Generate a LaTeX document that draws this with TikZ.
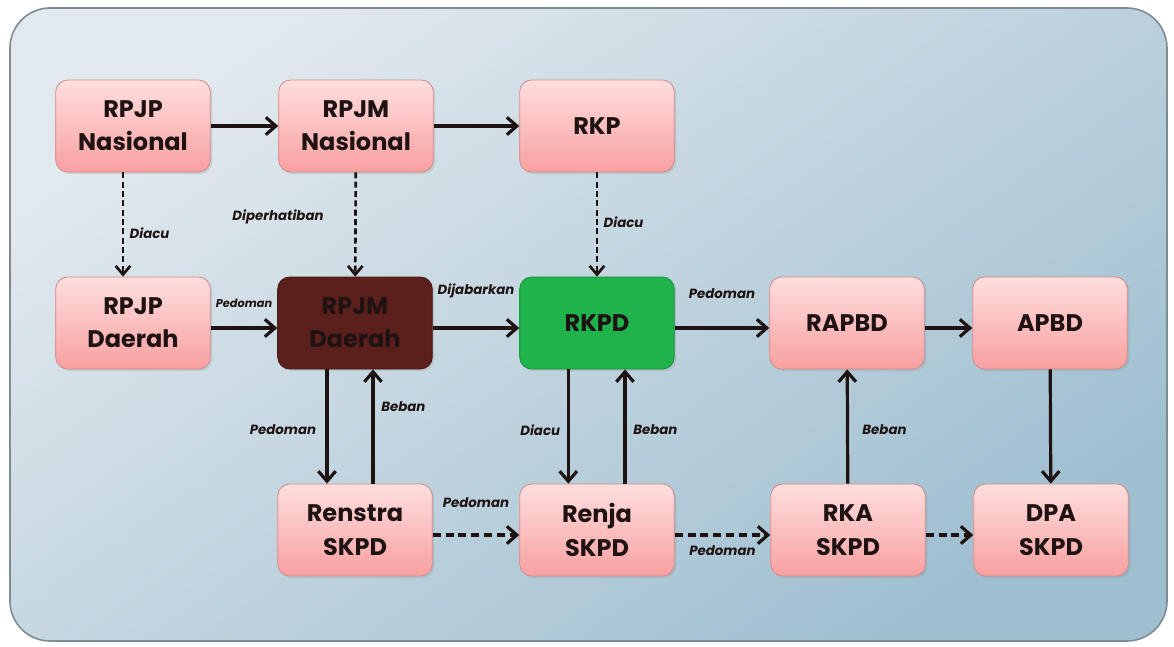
\documentclass[tikz,border=0pt]{standalone}
\usepackage{fontspec}
\setmainfont{Poppins}
\usetikzlibrary{arrows.meta,shadows}
\definecolor{bgtop}{HTML}{E2E9EE}
\definecolor{bgbot}{HTML}{9FBFD0}
\definecolor{bgline}{HTML}{7E8C92}
\definecolor{kotaktop}{HTML}{FFDEDE}
\definecolor{kotakbot}{HTML}{F8A0A0}
\definecolor{kotakline}{HTML}{D08A8A}
\definecolor{coklat}{HTML}{5B1F1C}
\definecolor{hijau}{HTML}{20B24B}
\definecolor{teks}{HTML}{1E1212}
\tikzset{
  kotak/.style={rectangle, rounded corners=9pt, minimum width=116pt, minimum height=69pt,
    align=center, draw=kotakline, line width=0.6pt, top color=kotaktop, bottom color=kotakbot,
    drop shadow={opacity=0.2, shadow xshift=1.5pt, shadow yshift=-1.5pt},
    text=teks, font=\fontsize{18}{25}\selectfont\bfseries},
  panah/.style={line width=2.4pt, teks, -{Straight Barb[length=7.5pt,width=13pt]}},
  putus/.style={panah, dash pattern=on 6pt off 3.6pt},
  putustipis/.style={line width=2pt, teks, dash pattern=on 4.5pt off 2.5pt, -{Straight Barb[length=6.5pt,width=11pt]}},
  ket/.style={font=\fontsize{10}{11}\selectfont\bfseries\itshape, text=teks, inner sep=1pt}
}
\begin{document}
\begin{tikzpicture}[x=0.75pt, y=-0.75pt]
    \useasboundingbox (0,0) rectangle (1174,646);
    % Latar
    \shade[top color=bgtop, bottom color=bgbot, shading angle=35, draw=bgline, line width=1.2pt,
      rounded corners=30pt] (10,8) rectangle (1167,641);

    % Kotak
    \node[kotak] (rpjpn) at (133,126) {RPJP\\Nasional};
    \node[kotak] (rpjmn) at (356,126) {RPJM\\Nasional};
    \node[kotak] (rkp) at (597,126) {RKP};
    \node[kotak] (rpjpd) at (133,323) {RPJP\\Daerah};
    \node[kotak, top color=coklat, bottom color=coklat, draw=coklat!80!black] (rpjmd) at (355,323) {RPJM\\Daerah};
    \node[kotak, top color=hijau, bottom color=hijau, draw=hijau!80!black] (rkpd) at (597,323) {RKPD};
    \node[kotak] (rapbd) at (847,323) {RAPBD};
    \node[kotak] (apbd) at (1050,323) {APBD};
    \node[kotak] (renstra) at (355,530) {Renstra\\SKPD};
    \node[kotak] (renja) at (597,530) {Renja\\SKPD};
    \node[kotak] (rka) at (848,530) {RKA\\SKPD};
    \node[kotak] (dpa) at (1051,530) {DPA\\SKPD};

    % Panah baris atas
    \draw[panah] (rpjpn) -- (rpjmn);
    \draw[panah] (rpjmn) -- (rkp);
    \draw[putustipis] ([xshift=-7.5pt]rpjpn.south) -- ([xshift=-7.5pt]rpjpd.north)
      node[ket, pos=0.58, right=3pt] {Diacu};
    \draw[putustipis] (rpjmn) -- (rpjmd)
      node[ket, pos=0.43, left=22pt] {Diperhatiban};
    \draw[putustipis] (rkp) -- (rkpd)
      node[ket, pos=0.48, right=3pt] {Diacu};

    % Panah baris tengah
    \draw[panah] ([yshift=-3.75pt]rpjpd.east) -- ([yshift=-3.75pt]rpjmd.west)
      node[ket, font=\fontsize{8.5}{10}\selectfont\bfseries\itshape, midway, above=13pt] {Pedoman};
    \draw[panah] ([yshift=-3.75pt]rpjmd.east) -- ([yshift=-3.75pt]rkpd.west)
      node[ket, midway, above=20pt] {Dijabarkan};
    \draw[panah] ([yshift=-3.75pt]rkpd.east) -- ([yshift=-3.75pt]rapbd.west)
      node[ket, midway, above=20pt] {Pedoman};
    \draw[panah] ([yshift=-3.75pt]rapbd.east) -- ([yshift=-3.75pt]apbd.west);

    % Panah vertikal
    \draw[panah] ([xshift=-21pt]rpjmd.south) -- ([xshift=-21pt]renstra.north)
      node[ket, pos=0.53, left=6pt] {Pedoman};
    \draw[panah] ([xshift=13.5pt]renstra.north) -- ([xshift=13.5pt]rpjmd.south)
      node[ket, pos=0.67, right=4pt] {Beban};
    \draw[panah] ([xshift=-21.5pt]rkpd.south) -- ([xshift=-21.5pt]renja.north)
      node[ket, pos=0.53, left=4pt] {Diacu};
    \draw[panah] ([xshift=21pt]renja.north) -- ([xshift=21pt]rkpd.south)
      node[ket, pos=0.47, right=4pt] {Beban};
    \draw[panah] (rka) -- (rapbd)
      node[ket, pos=0.47, right=9pt] {Beban};
    \draw[panah] (apbd) -- (dpa);

    % Panah baris bawah
    \draw[putus] ([yshift=-3.75pt]renstra.east) -- ([yshift=-3.75pt]renja.west)
      node[ket, midway, above=18pt] {Pedoman};
    \draw[putus] ([yshift=-3.75pt]renja.east) -- ([yshift=-3.75pt]rka.west)
      node[ket, midway, below=6pt] {Pedoman};
    \draw[putus] ([yshift=-3.75pt]rka.east) -- ([yshift=-3.75pt]dpa.west);
\end{tikzpicture}
\end{document}
